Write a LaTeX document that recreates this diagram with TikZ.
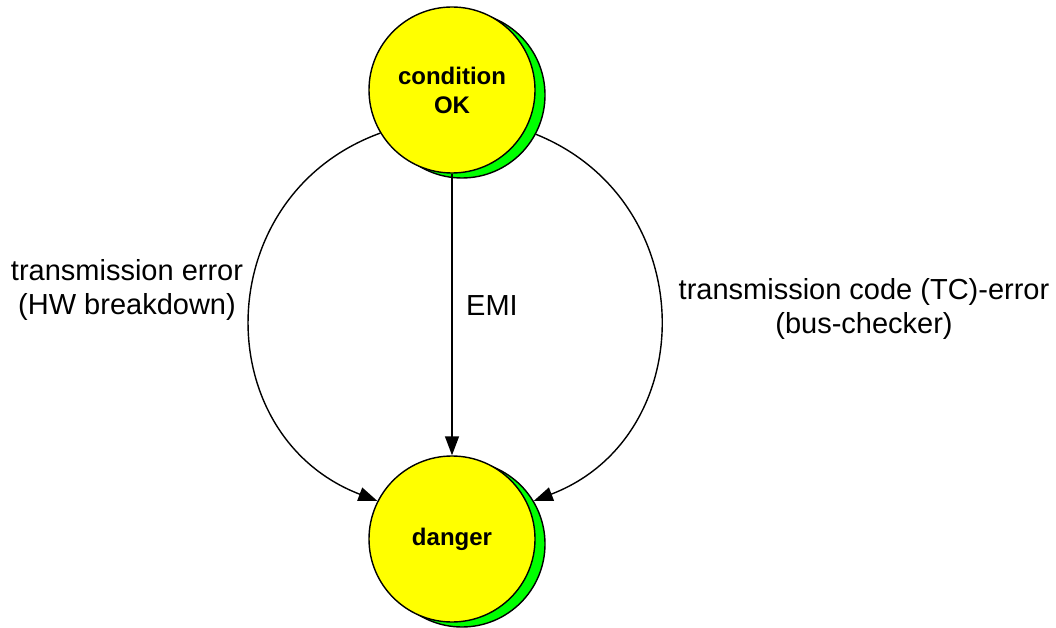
\documentclass[tikz,border=0pt]{standalone}
\usepackage{fontspec}
\setmainfont{Liberation Sans}
\usetikzlibrary{arrows.meta}
\definecolor{stateyellow}{RGB}{255,255,0}
\definecolor{stategreen}{RGB}{0,255,0}
\begin{document}
\begin{tikzpicture}[x=1pt,y=1pt,
  state/.style={circle, draw=black, line width=1.4pt, fill=stateyellow,
    minimum size=166pt, inner sep=0pt, align=center,
    font=\fontsize{24}{29}\selectfont\bfseries},
  shade/.style={circle, draw=black, line width=1.4pt, fill=stategreen,
    minimum size=166pt, inner sep=0pt},
  edge/.style={line width=1.4pt, -{Triangle[length=19pt,width=14pt]}},
  lbl/.style={align=center, font=\fontsize{29}{34}\selectfont}]
\useasboundingbox (0,0) rectangle (1056,627);

% states with offset green shadows
\node[shade] (okshadow) at (462,532) {};
\node[state] (ok) at (452,537) {condition\\OK};
\node[shade] (dangershadow) at (462,83) {};
\node[state] (danger) at (452,88) {danger};

% transitions
\draw[edge] (ok) -- (danger);
\draw[edge] (ok.211) to[out=200,in=159,looseness=1.27] (danger.153);
\draw[edge] (okshadow.332) to[out=-22,in=21,looseness=1.25] (dangershadow.31);

% transition labels
\node[lbl] (lleft) at (127,337) {transmission error\\(HW breakdown)};
\node[lbl] (lemi) at (492,321) {EMI};
\node[lbl] (lright) at (864,318) {transmission code (TC)-error\\(bus-checker)};
\end{tikzpicture}
\end{document}
